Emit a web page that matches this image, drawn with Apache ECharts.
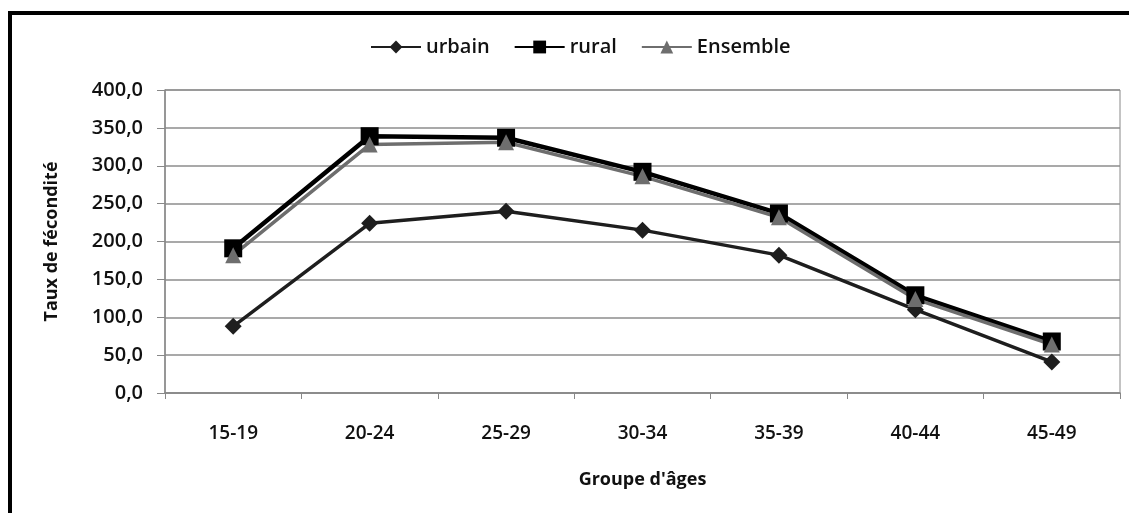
<!DOCTYPE html>
<html>
<head>
<meta charset="utf-8">
<script src="https://cdn.jsdelivr.net/npm/echarts@6/dist/echarts.min.js"></script>
<style>
  html, body { margin: 0; padding: 0; background: #fff; }
  #chart { width: 1129px; height: 513px; }
</style>
</head>
<body>
<div id="chart"></div>
<script>
// groupes d'âges
var categories = ['15-19', '20-24', '25-29', '30-34', '35-39', '40-44', '45-49'];
// taux de fécondité
var urbain = [88, 224, 240, 215, 182, 110, 41];
var rural = [191, 339, 337, 292, 237, 129, 68];
var ensemble = [182, 328, 331, 286, 232, 124, 64];

var fmt = function (v) { return v.toFixed(1).replace('.', ','); };

var chart = echarts.init(document.getElementById('chart'));
chart.setOption({
  animation: false,
  graphic: [{
    type: 'rect',
    shape: { x: 10, y: 13, width: 1200, height: 600 },
    style: { fill: 'none', stroke: '#000', lineWidth: 4 }
  }],
  legend: {
    left: 365,
    top: 32,
    itemWidth: 50,
    itemHeight: 16,
    itemGap: 24,
    textStyle: { fontFamily: 'Open Sans', fontWeight: 600, fontSize: 20, color: '#111' },
    data: ['urbain', 'rural', 'Ensemble']
  },
  grid: {
    left: 165, right: 9, top: 90, bottom: 120,
    show: true, borderColor: '#888', borderWidth: 1
  },
  xAxis: {
    type: 'category',
    data: categories,
    boundaryGap: true,
    name: "Groupe d'âges",
    nameLocation: 'middle',
    nameGap: 78,
    nameTextStyle: { fontFamily: 'Open Sans', fontWeight: 'bold', fontSize: 18, color: '#111' },
    axisLine: { lineStyle: { color: '#888', width: 1.5 } },
    axisTick: { show: true, length: 6, lineStyle: { color: '#888' } },
    axisLabel: { margin: 31, fontFamily: 'Open Sans', fontWeight: 600, fontSize: 19, color: '#111' }
  },
  yAxis: {
    type: 'value',
    min: 0, max: 400, interval: 50,
    name: 'Taux de fécondité',
    nameLocation: 'middle',
    nameRotate: 90,
    nameGap: 104,
    nameTextStyle: { fontFamily: 'Open Sans', fontWeight: 'bold', fontSize: 18, color: '#111' },
    axisLine: { show: true, lineStyle: { color: '#888', width: 1.5 } },
    axisTick: { show: true, length: 8, lineStyle: { color: '#888' } },
    axisLabel: { margin: 22, fontFamily: 'Open Sans', fontWeight: 600, fontSize: 20, color: '#111', formatter: fmt },
    splitLine: { lineStyle: { color: '#8c8c8c', width: 1.5 } }
  },
  series: [
    {
      name: 'urbain', type: 'line', data: urbain,
      symbol: 'diamond', symbolSize: 17,
      lineStyle: { color: '#1e1e1e', width: 3.5 },
      itemStyle: { color: '#1e1e1e' }
    },
    {
      name: 'rural', type: 'line', data: rural,
      symbol: 'rect', symbolSize: 18,
      lineStyle: { color: '#000', width: 4.5 },
      itemStyle: { color: '#000' }
    },
    {
      name: 'Ensemble', type: 'line', data: ensemble,
      symbol: 'triangle', symbolSize: 16,
      lineStyle: { color: '#6e6e6e', width: 3.5 },
      itemStyle: { color: '#6e6e6e' }
    }
  ]
});
</script>
</body>
</html>
